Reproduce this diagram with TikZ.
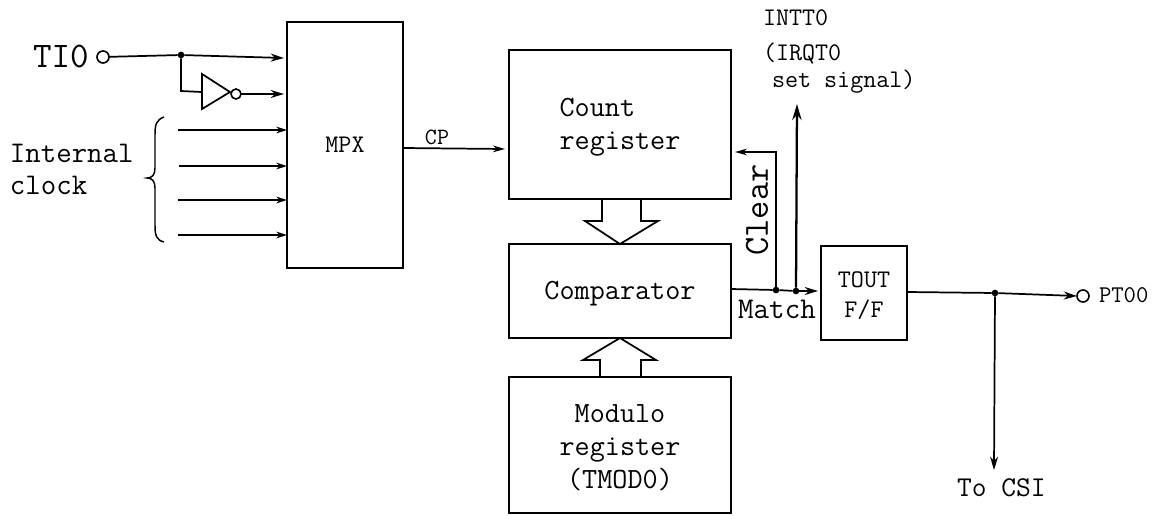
\documentclass[tikz,border=0pt]{standalone}
\usetikzlibrary{arrows.meta,calc}
\newcommand{\fs}[1]{\fontsize{#1}{#1}\selectfont\ttfamily}
\tikzset{
  wire/.style={line width=1.3pt},
  arr/.style={wire,-{Stealth[length=10pt,width=6pt]}},
  box/.style={draw,line width=1.4pt,inner sep=0pt,outer sep=0pt},
  term/.style={draw,circle,line width=1.2pt,fill=white,minimum size=9pt,inner sep=0pt,outer sep=0pt},
  dot/.style={fill,circle,minimum size=5pt,inner sep=0pt,outer sep=0pt},
  lbl/.style={inner sep=0pt,outer sep=0pt},
  bigtext/.style={font=\fontsize{22}{24.8}\selectfont\ttfamily,align=left},
}
\begin{document}
\begin{tikzpicture}[x=0.75pt,y=-0.75pt]
\useasboundingbox (0,0) rectangle (1154,515);
\fill[white] (0,0) rectangle (1154,515);
% boxes
\node[box,minimum width=87pt,minimum height=185pt,font=\fs{19}] (mpx) at (345,145) {MPX};
\node[box,minimum width=166.5pt,minimum height=111.75pt,bigtext] (count) at (620,124.5) {\rule{0pt}{18pt}Count\\register};
\node[box,minimum width=166.5pt,minimum height=70.5pt,bigtext] (comp) at (620,291) {\rule{0pt}{17pt}Comparator};
\node[box,minimum width=166.5pt,minimum height=102pt,bigtext,align=center] (modulo) at (620,445) {\rule{0pt}{17pt}Modulo\\register\\(TMOD0)};
\node[box,minimum width=64.5pt,minimum height=70.5pt,font=\fontsize{19}{23}\selectfont\ttfamily,align=center] (tout) at (864,293) {\rule{0pt}{16pt}TOUT\\F/F};
% block arrows
\draw[line width=1.3pt] ($(count.south)+(-18,0)$) -- ++(0,22) -- ++(-17,0) -- (comp.north) -- ($(count.south)+(55,22)-(17,0)$) -- ++(-17,0)-- ($(count.south)+(21,0)$);
\draw[line width=1.3pt] ($(modulo.north)+(-20,0)$) -- ++(0,-17) -- ++(-17,0) -- (comp.south) -- ($(modulo.north)+(36,-17)$) -- ++(-15,0) -- ($(modulo.north)+(21,0)$);
% TIO input
\node[lbl,font=\fs{27},anchor=base west] (tio) at (33,67) {TI0};
\node[term] (tiot) at (103,57) {};
\coordinate (m1) at (284,58);
\coordinate (j1c) at (181,55);
\node[dot] (j1) at (j1c) {};
\coordinate (bend) at (181,91);
\draw[arr] (tiot) -- (j1) -- (m1);
\coordinate (inA) at (202,92);
\draw[wire] (j1) -- (bend) -- (inA);
\draw[line width=1.3pt] (202,74) -- (230,92) -- (202,109) -- cycle;
\node[term,minimum size=7.5pt] (bub) at (236,94) {};
\coordinate (m2) at (284,94);
\draw[arr] (bub) -- (m2);
% internal clock
\node[lbl,font=\fontsize{22.5}{24}\selectfont\ttfamily,align=left,anchor=west] (ic) at (10,169) {Internal\\clock};
\draw[line width=1.1pt] (164,117) .. controls (156,120) and (155,125) .. (155,135) -- (155,168) .. controls (155,175) and (152,178) .. (147,178) .. controls (152,178) and (155,181) .. (155,188) -- (155,225) .. controls (155,235) and (156,240) .. (164,242);
\foreach \n/\y/\xs in {a/130/178,b/166/179,c/200/178,d/235/178}{
  \coordinate (s\n) at (\xs,\y);
  \coordinate (t\n) at (287,\y);
  \draw[wire,-{Stealth[length=8pt,width=5pt]}] (s\n) -- (t\n);
}
% CP
\coordinate (cpin) at (505,149);
\draw[wire,-{Stealth[length=9pt,width=5pt]}] (mpx.east |- 0,148) -- (cpin);
\node[lbl,font=\fs{17.5}] (cp) at (437,137) {CP};
% match line
\coordinate (jc) at (776,290);
\coordinate (ji) at (796,291);
\node[dot] (j2) at (jc) {};
\node[dot] (j3) at (ji) {};
\coordinate (compout) at (731,289);
\coordinate (toutin) at (818,291);
\draw[wire] (compout) -- (j2) -- (j3);
\draw[arr] (j3) -- (toutin);
\coordinate (clrbend) at (776,152);
\coordinate (clrend) at (735,152);
\draw[wire,-{Stealth[length=9pt,width=5pt]}] (j2) -- (clrbend) -- (clrend);
\coordinate (inttop) at (797,104);
\draw[wire,line width=1.7pt,-{Stealth[length=12pt,width=7pt]}] (j3) -- (inttop);
\node[lbl,font=\fontsize{26.5}{26.5}\selectfont\ttfamily,rotate=90] (clr) at (757,210) {Clear};
\node[lbl,font=\fontsize{22.6}{22.6}\selectfont\ttfamily] (match) at (777,309) {Match};
% INTT0 labels
\node[lbl,font=\fs{19},anchor=base west] (intt) at (763,25) {INTT0};
\node[lbl,font=\fs{19},anchor=base west] (irq) at (763,60) {(IRQT0};
\node[lbl,font=\fs{19},anchor=base west] (setsig) at (772,87) {set signal)};
% output
\coordinate (toutout) at (907,292);
\coordinate (j4c) at (995,293);
\node[dot] (j4) at (j4c) {};
\node[term] (pto) at (1083,296) {};
\draw[wire] (toutout) -- (j4);
\draw[arr] (j4) -- (pto.west);
\coordinate (csi) at (994,470);
\draw[arr] (j4) -- (csi);
\node[lbl,font=\fs{18},anchor=base west] (pt) at (1099,302) {PT00};
\node[lbl,font=\fontsize{21.5}{21.5}\selectfont\ttfamily,anchor=base west] (tocsi) at (957,496) {To CSI};
\end{tikzpicture}
\end{document}
